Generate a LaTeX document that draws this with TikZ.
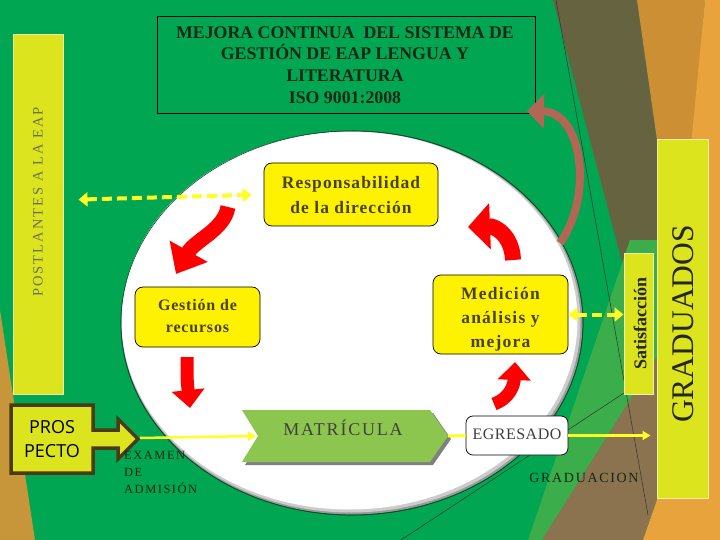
\documentclass[tikz,border=0pt]{standalone}
\usepackage{fontspec}
\setmainfont{Liberation Serif}
\newfontfamily\sansf{Open Sans}
\newfontfamily\lsthree[LetterSpace=3]{Liberation Serif}
\newfontfamily\lsfive[LetterSpace=5]{Liberation Serif}
\newfontfamily\lssix[LetterSpace=6]{Liberation Serif}
\newfontfamily\lsseven[LetterSpace=7]{Liberation Serif}
\newfontfamily\lsten[LetterSpace=10]{Liberation Serif}
\newfontfamily\lstwelve[LetterSpace=12]{Liberation Serif}
\newfontfamily\lsfourteen[LetterSpace=14]{Liberation Serif}
\usetikzlibrary{arrows.meta}
\definecolor{bggreen}{RGB}{0,166,81}
\definecolor{lgreen}{RGB}{60,173,75}
\definecolor{olivebg}{RGB}{102,100,64}
\definecolor{dorange}{RGB}{204,143,52}
\definecolor{lorange}{RGB}{232,163,60}
\definecolor{brownbg}{RGB}{139,115,80}
\definecolor{leftor}{RGB}{199,150,58}
\definecolor{yboxc}{RGB}{219,228,28}
\definecolor{ybord}{RGB}{240,240,170}
\definecolor{titletext}{RGB}{18,40,20}
\definecolor{boxtext}{RGB}{72,66,18}
\definecolor{matgreen}{RGB}{141,198,79}
\definecolor{arrbrown}{RGB}{178,102,84}
\definecolor{graytext}{RGB}{112,112,80}
\definecolor{darkout}{RGB}{12,80,40}
\definecolor{prosbord}{RGB}{75,58,23}
\definecolor{yline}{RGB}{255,255,40}
\tikzset{
  ybox/.style={fill=yboxc, draw=ybord, line width=1pt, inner sep=0pt},
  yround/.style={fill=yellow, draw=black, line width=0.7pt, rounded corners=8pt, inner sep=0pt},
  boxlabel/.style={text=boxtext, align=center, inner sep=0pt},
  redbig/.style={draw=red, line width=15pt, -{Triangle[length=26pt,width=42pt]}},
  redwide/.style={draw=red, line width=16pt, -{Triangle[length=22pt,width=45pt]}},
  redsmall/.style={draw=red, line width=13pt, -{Triangle[length=18pt,width=32pt]}},
  brownarr/.style={draw=arrbrown, line width=8pt, -{Triangle[length=17pt,width=34pt]}},
  yarrow/.style={draw=yline, line width=2.5pt, -{Triangle[length=8pt,width=9pt]}},
  dasharr/.style={draw=yline, line width=4pt, dash pattern=on 10pt off 5pt,
     {Triangle[length=9pt,width=14pt]}-{Triangle[length=9pt,width=14pt]}},
  thinline/.style={draw=black!80, line width=0.5pt}
}
\begin{document}
\begin{tikzpicture}[x=1pt,y=-1pt]
\useasboundingbox (0,0) rectangle (720,540);
% background
\fill[bggreen] (0,0) rectangle (720,540);
\fill[leftor] (0,310) -- (35,540) -- (0,540) -- cycle;
\fill[olivebg] (553,0) -- (637,0) -- (657,140) -- (657,262) -- (622,262) -- cycle;
\fill[lgreen] (630,240) -- (657,240) -- (657,357) -- (542,540) -- (528,540) -- cycle;
\fill[dorange] (637,0) -- (705,0) -- (670,400) -- (657,400) -- (657,140) -- cycle;
\fill[brownbg] (657,357) -- (657,500) -- (643,540) -- (542,540) -- cycle;
\fill[lorange] (705,0) -- (720,0) -- (720,540) -- (643,540) -- (657,500) -- cycle;
\draw[thinline] (556,0) -- (648,515);
\draw[thinline] (624,393) -- (401,540);
% white circle with shadow
\draw[darkout, line width=0.8pt, fill=black!40] (352,323) ellipse (231 and 192);
\fill[black!20] (351,322) ellipse (229.5 and 190.5);
\fill[white] (349.5,320.5) ellipse (228 and 189);
\draw[darkout, line width=0.6pt] (352,323) ellipse (231 and 192);
% title
\node[draw=black, line width=0.6pt, minimum width=378pt, minimum height=97pt, inner sep=0pt] (title) at (346,64.5) {};
\node[text=titletext, align=center, inner sep=0pt, font=\bfseries\fontsize{17.8}{21.8}\selectfont] (titletxt) at (345,65)
  {MEJORA CONTINUA~ DEL SISTEMA DE\\GESTIÓN DE EAP LENGUA Y\\LITERATURA\\ISO 9001:2008};
% side boxes
\node[ybox, minimum width=50pt, minimum height=359pt] (post) at (38,214.5) {};
\node[rotate=90, text=graytext, inner sep=0pt, font=\lsfourteen\fontsize{14.5}{16}\selectfont] (posttxt) at (38,202) {POSTLANTES A LA EAP};
\node[ybox, minimum width=51pt, minimum height=358pt] (grad) at (682.5,319) {};
\node[rotate=90, text=black!85, inner sep=0pt, font=\fontsize{31.5}{34}\selectfont] (gradtxt) at (683,324) {GRADUADOS};
\node[ybox, minimum width=29pt, minimum height=141pt] (sat) at (638.5,323.5) {};
\node[rotate=90, text=black!85, inner sep=0pt, font=\bfseries\fontsize{18}{20}\selectfont] (sattxt) at (640,323.5) {Satisfacción};
% process boxes
\node[yround, minimum width=174pt, minimum height=63pt] (resp) at (351,194.5) {};
\node[boxlabel, font=\lssix\bfseries\fontsize{17.5}{24.5}\selectfont] (resptxt) at (351,195) {Responsabilidad\\de la dirección};
\node[yround, minimum width=125pt, minimum height=60pt] (gest) at (197.5,317) {};
\node[boxlabel, font=\lsfive\bfseries\fontsize{16}{22}\selectfont] (gesttxt) at (197.5,316) {Gestión de\\recursos};
\node[yround, minimum width=135pt, minimum height=79pt] (med) at (500.5,314.5) {};
\node[boxlabel, font=\lsseven\bfseries\fontsize{17.5}{24}\selectfont] (medtxt) at (500.5,319) {Medición\\análisis y\\mejora};
\node[fill=white, draw=black, line width=0.7pt, rounded corners=7pt, minimum width=102pt, minimum height=39pt, inner sep=0pt] (egr) at (517,435.5) {};
\node[text=black!75, inner sep=0pt, font=\lsthree\fontsize{16}{18}\selectfont] (egrtxt) at (517,434) {EGRESADO};
% matricula chevron
\fill[black!50] (245,413) -- (433,413) -- (451,439) -- (433,465) -- (245,465) -- (261,439) -- cycle;
\fill[matgreen] (242,410) -- (430,410) -- (448,436) -- (430,462) -- (242,462) -- (258,436) -- cycle;
\coordinate (matL) at (256,436);
\coordinate (matR) at (448,436);
\node[text=black!75, inner sep=0pt, font=\lsten\fontsize{18}{20}\selectfont] (mattxt) at (343,428) {MATRÍCULA};
% prospecto callout
\draw[prosbord, line width=3.5pt, fill=yboxc, line join=miter]
  (11,405) -- (93,405) -- (93,430) -- (118,430) -- (118,419) -- (138,439) -- (118,459)
  -- (118,448) -- (93,448) -- (93,473) -- (11,473) -- cycle;
\coordinate (prosTip) at (140,438);
\node[align=center, inner sep=0pt, font=\sansf\fontsize{18}{24}\selectfont] (prostxt) at (52,439) {PROS\\PECTO};
% labels
\node[anchor=north west, align=left, inner sep=0pt, text=titletext, font=\lstwelve\fontsize{12.5}{17}\selectfont] (exam) at (124,451) {EXAMEN\\DE\\ADMISIÓN};
\node[text=titletext, inner sep=0pt, font=\lstwelve\fontsize{14}{16}\selectfont] (gradlbl) at (584,478) {GRADUACION};
% connectors
\draw[yarrow] (prosTip) -- (matL);
\draw[draw=yline, line width=3pt] (matR) -- (egr.west);
\draw[yarrow, shorten >=6pt] (egr.east) -- (egr.east -| grad.west);
\draw[dasharr, shorten <=15pt, shorten >=12pt] (post.east |- 0,200) -- (resp.west);
\draw[dasharr] (med.east) -- (med.east -| sat.west);
% red cycle arrows
\draw[redbig] (228,207) .. controls (224,230) and (195,240) .. (176,274);
\draw[redsmall] (187,357) .. controls (187,380) .. (190,408);
\draw[redsmall] (494,404) .. controls (510,398) and (514,385) .. (515,362);
\draw[redwide] (513,260) .. controls (512,235) and (495,226) .. (468,227);
% brown arrow
\draw[brownarr] (560,243) .. controls (594,195) and (582,112) .. (527,111);
\end{tikzpicture}
\end{document}
